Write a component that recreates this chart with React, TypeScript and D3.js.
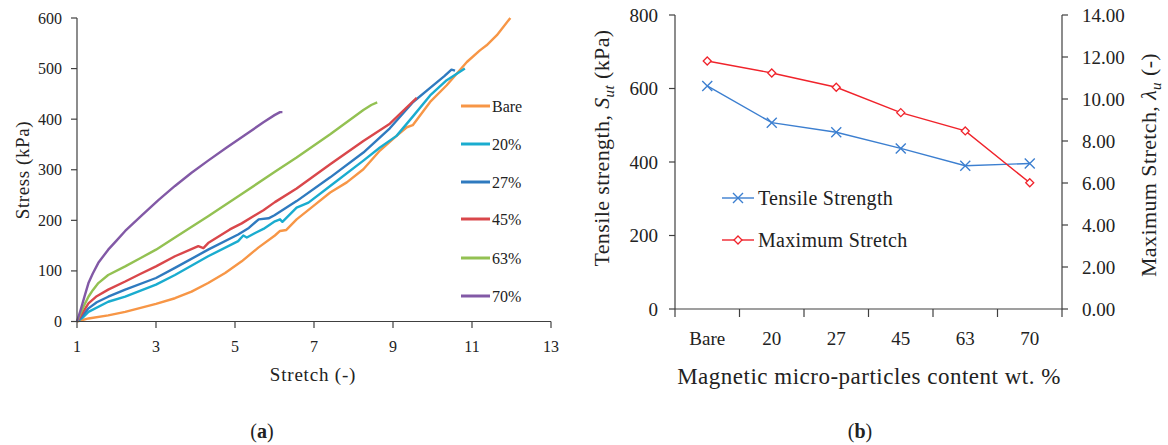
import React, { useEffect, useRef } from "react";
import * as d3 from "d3";

// (a) stress-stretch curves, one per particle content
const bare = [[1,0],[1.29,6],[1.79,12],[2.22,19],[3,35],[3.48,46],[3.9,59],[4.32,76],[4.75,96],[5.17,119],[5.59,146],[6.01,170],[6.14,179],[6.3,181],[6.56,202],[6.98,228],[7.41,255],[7.83,275],[8.25,301],[8.67,338],[9.09,367],[9.35,384],[9.5,388],[9.94,434],[10.36,467],[10.87,513],[11.2,536],[11.37,546],[11.63,566],[11.97,600]];
const p20 = [[1,0],[1.15,8],[1.29,19],[1.79,39],[2.22,49],[3,73],[3.48,92],[4.32,129],[5.08,159],[5.21,170],[5.3,166],[5.51,175],[5.72,183],[6.01,198],[6.14,202],[6.2,197],[6.56,225],[6.86,235],[7.41,268],[8.25,318],[8.67,344],[9.09,367],[9.5,405],[9.94,447],[10.36,477],[10.82,500]];
const p27 = [[1,0],[1.1,8],[1.29,26],[1.5,38],[1.79,49],[2.22,63],[3,86],[3.48,106],[4.32,142],[5.08,172],[5.35,185],[5.6,202],[5.85,204],[6.0,210],[6.56,238],[7.41,285],[8.25,334],[8.92,382],[9.51,434],[9.94,462],[10.3,485],[10.48,498],[10.57,496]];
const p45 = [[1,0],[1.1,12],[1.29,36],[1.5,50],[1.79,63],[2.22,79],[2.6,94],[3,109],[3.48,129],[4.07,149],[4.2,145],[4.32,155],[4.87,182],[5.17,194],[5.72,220],[6.01,236],[6.56,263],[7.41,311],[8.25,357],[8.92,391],[9.6,442]];
const p63 = [[1,0],[1.1,18],[1.2,35],[1.29,49],[1.4,62],[1.54,76],[1.79,92],[2.22,109],[2.6,125],[3,142],[3.48,166],[4.32,208],[5.17,252],[6.01,296],[6.56,324],[7.41,370],[8.25,418],[8.45,428],[8.6,433]];
const p70 = [[1,0],[1.1,25],[1.2,52],[1.29,76],[1.4,95],[1.54,116],[1.79,142],[2,160],[2.22,179],[2.64,210],[3.06,240],[3.48,268],[3.9,294],[4.32,318],[4.79,344],[5.3,371],[5.72,394],[6.0,408],[6.14,414],[6.2,414]];
const curveNames = ["Bare", "20%", "27%", "45%", "63%", "70%"];
const curveColors = ["#f79646", "#1aaccf", "#2f7abf", "#d9474b", "#93c152", "#8259a6"];
const stretchTicks = [1, 3, 5, 7, 9, 11, 13];
const stressTicks = [0, 100, 200, 300, 400, 500, 600];

// (b) strength and max stretch vs content
const contents = ["Bare", "20", "27", "45", "63", "70"];
const tensileStrength = [607, 507, 481, 437, 390, 396];
const maxStretch = [11.81, 11.24, 10.56, 9.35, 8.48, 6.01];
const strengthTicks = [0, 200, 400, 600, 800];
const lambdaTicks = [0, 2, 4, 6, 8, 10, 12, 14];

const FONT = "'Liberation Serif', 'DejaVu Serif', serif";
const AXIS = "#404040";

const App = () => {
  const svgRef = useRef(null);

  useEffect(() => {
    const svg = d3.select(svgRef.current);
    svg.selectAll("*").remove();
    svg.attr("font-family", FONT).attr("fill", "#222");

    // ---------- (a) ----------
    const x = d3.scaleLinear([1, 13], [77, 551]);
    const y = d3.scaleLinear([0, 600], [321.5, 18]);
    const a = svg.append("g");

    const line = d3.line().x((d) => x(d[0])).y((d) => y(d[1]));
    [bare, p20, p27, p45, p63, p70].forEach((s, i) => {
      a.append("path")
        .datum(s)
        .attr("fill", "none")
        .attr("stroke", curveColors[i])
        .attr("stroke-width", 2.4)
        .attr("stroke-linejoin", "round")
        .attr("d", line);
    });

    a.append("line").attr("x1", 77).attr("x2", 77).attr("y1", 18).attr("y2", 321.5).attr("stroke", AXIS).attr("stroke-width", 1.2);
    a.append("line").attr("x1", 77).attr("x2", 551).attr("y1", 321.5).attr("y2", 321.5).attr("stroke", AXIS).attr("stroke-width", 1.2);
    stressTicks.forEach((t) => {
      a.append("line").attr("x1", 71).attr("x2", 77).attr("y1", y(t)).attr("y2", y(t)).attr("stroke", AXIS).attr("stroke-width", 1.2);
      a.append("text").attr("x", 62).attr("y", y(t) + 5.5).attr("text-anchor", "end").attr("font-size", 16).text(t);
    });
    stretchTicks.forEach((t) => {
      a.append("line").attr("x1", x(t)).attr("x2", x(t)).attr("y1", 321.5).attr("y2", 328).attr("stroke", AXIS).attr("stroke-width", 1.2);
      a.append("text").attr("x", x(t)).attr("y", 352).attr("text-anchor", "middle").attr("font-size", 16).text(t);
    });
    a.append("text").attr("x", 313).attr("y", 381).attr("text-anchor", "middle").attr("font-size", 19).attr("letter-spacing", 0.8).text("Stretch (-)");
    a.append("text").attr("transform", "translate(29,170) rotate(-90)").attr("text-anchor", "middle").attr("font-size", 19).attr("letter-spacing", 0.6).text("Stress (kPa)");

    const rows = [106, 144, 182, 219, 258, 296];
    curveNames.forEach((n, i) => {
      a.append("line").attr("x1", 461).attr("x2", 490).attr("y1", rows[i]).attr("y2", rows[i]).attr("stroke", curveColors[i]).attr("stroke-width", 3);
      a.append("text").attr("x", 492).attr("y", rows[i] + 5.5).attr("font-size", 16).text(n);
    });

    a.append("text").attr("x", 262).attr("y", 438).attr("text-anchor", "middle").attr("font-size", 20)
      .html("(<tspan font-weight='bold'>a</tspan>)");

    // ---------- (b) ----------
    const xb = d3.scaleBand(contents, [675, 1062]);
    const yl = d3.scaleLinear([0, 800], [309, 15]);
    const yr = d3.scaleLinear([0, 14], [309, 15]);
    const b = svg.append("g");
    const cx = (c) => xb(c) + xb.bandwidth() / 2;

    b.append("line").attr("x1", 675).attr("x2", 675).attr("y1", 15).attr("y2", 309).attr("stroke", AXIS).attr("stroke-width", 1.2);
    b.append("line").attr("x1", 1062).attr("x2", 1062).attr("y1", 15).attr("y2", 309).attr("stroke", AXIS).attr("stroke-width", 1.2);
    b.append("line").attr("x1", 675).attr("x2", 1062).attr("y1", 309).attr("y2", 309).attr("stroke", AXIS).attr("stroke-width", 1.2);
    strengthTicks.forEach((t) => {
      b.append("line").attr("x1", 669).attr("x2", 675).attr("y1", yl(t)).attr("y2", yl(t)).attr("stroke", AXIS).attr("stroke-width", 1.2);
      b.append("text").attr("x", 658).attr("y", yl(t) + 6.5).attr("text-anchor", "end").attr("font-size", 19).text(t);
    });
    lambdaTicks.forEach((t) => {
      b.append("line").attr("x1", 1062).attr("x2", 1068).attr("y1", yr(t)).attr("y2", yr(t)).attr("stroke", AXIS).attr("stroke-width", 1.2);
      b.append("text").attr("x", 1082).attr("y", yr(t) + 6.5).attr("font-size", 19).text(t.toFixed(2));
    });
    contents.forEach((c, i) => {
      const tx = 675 + i * xb.bandwidth();
      b.append("line").attr("x1", tx + xb.bandwidth()).attr("x2", tx + xb.bandwidth()).attr("y1", 309).attr("y2", 317).attr("stroke", AXIS).attr("stroke-width", 1.2);
      if (i === 0) b.append("line").attr("x1", tx).attr("x2", tx).attr("y1", 309).attr("y2", 317).attr("stroke", AXIS).attr("stroke-width", 1.2);
      b.append("text").attr("x", cx(c)).attr("y", 345).attr("text-anchor", "middle").attr("font-size", 19).text(c);
    });
    b.append("text").attr("x", 869).attr("y", 384).attr("text-anchor", "middle").attr("font-size", 23).attr("letter-spacing", 0.5)
      .text("Magnetic micro-particles content wt. %");
    b.append("text").attr("transform", "translate(609,148) rotate(-90)").attr("text-anchor", "middle").attr("font-size", 22).attr("letter-spacing", 0.4)
      .html("Tensile strength, <tspan font-style='italic'>S</tspan><tspan font-style='italic' font-size='15' dy='5'>ut</tspan><tspan dy='-5'> (kPa)</tspan>");
    b.append("text").attr("transform", "translate(1156,165) rotate(-90)").attr("text-anchor", "middle").attr("font-size", 22).attr("letter-spacing", 0.4)
      .html("Maximum Stretch, <tspan font-style='italic'>λ</tspan><tspan font-style='italic' font-size='15' dy='5'>u</tspan><tspan dy='-5'> (-)</tspan>");

    const blue = "#3c7fd0";
    const red = "#f0232b";
    const tsLine = d3.line().x((d, i) => cx(contents[i])).y((d) => yl(d));
    const msLine = d3.line().x((d, i) => cx(contents[i])).y((d) => yr(d));
    b.append("path").datum(tensileStrength).attr("fill", "none").attr("stroke", blue).attr("stroke-width", 1.4).attr("d", tsLine);
    b.append("path").datum(maxStretch).attr("fill", "none").attr("stroke", red).attr("stroke-width", 1.4).attr("d", msLine);

    const cross = (g, px, py) => {
      g.append("path").attr("d", `M${px - 5},${py - 5}L${px + 5},${py + 5}M${px - 5},${py + 5}L${px + 5},${py - 5}`)
        .attr("stroke", blue).attr("stroke-width", 1.4);
    };
    const diamond = (g, px, py) => {
      g.append("path").attr("d", `M${px},${py - 4}L${px + 4},${py}L${px},${py + 4}L${px - 4},${py}Z`)
        .attr("fill", "white").attr("stroke", red).attr("stroke-width", 1.3);
    };
    tensileStrength.forEach((v, i) => cross(b, cx(contents[i]), yl(v)));
    maxStretch.forEach((v, i) => diamond(b, cx(contents[i]), yr(v)));

    // legend
    b.append("line").attr("x1", 722).attr("x2", 754).attr("y1", 198).attr("y2", 198).attr("stroke", blue).attr("stroke-width", 1.4);
    cross(b, 738, 198);
    b.append("text").attr("x", 758).attr("y", 205).attr("font-size", 20).attr("letter-spacing", 0.3).text("Tensile Strength");
    b.append("line").attr("x1", 722).attr("x2", 754).attr("y1", 240).attr("y2", 240).attr("stroke", red).attr("stroke-width", 1.4);
    diamond(b, 738, 240);
    b.append("text").attr("x", 758).attr("y", 247).attr("font-size", 20).attr("letter-spacing", 0.3).text("Maximum Stretch");

    b.append("text").attr("x", 860).attr("y", 438).attr("text-anchor", "middle").attr("font-size", 20)
      .html("(<tspan font-weight='bold'>b</tspan>)");
  }, []);

  return (
    <svg
      ref={svgRef}
      width={1168}
      height={445}
      style={{ position: "absolute", left: 0, top: 0, background: "white" }}
    ></svg>
  );
};

export default App;
